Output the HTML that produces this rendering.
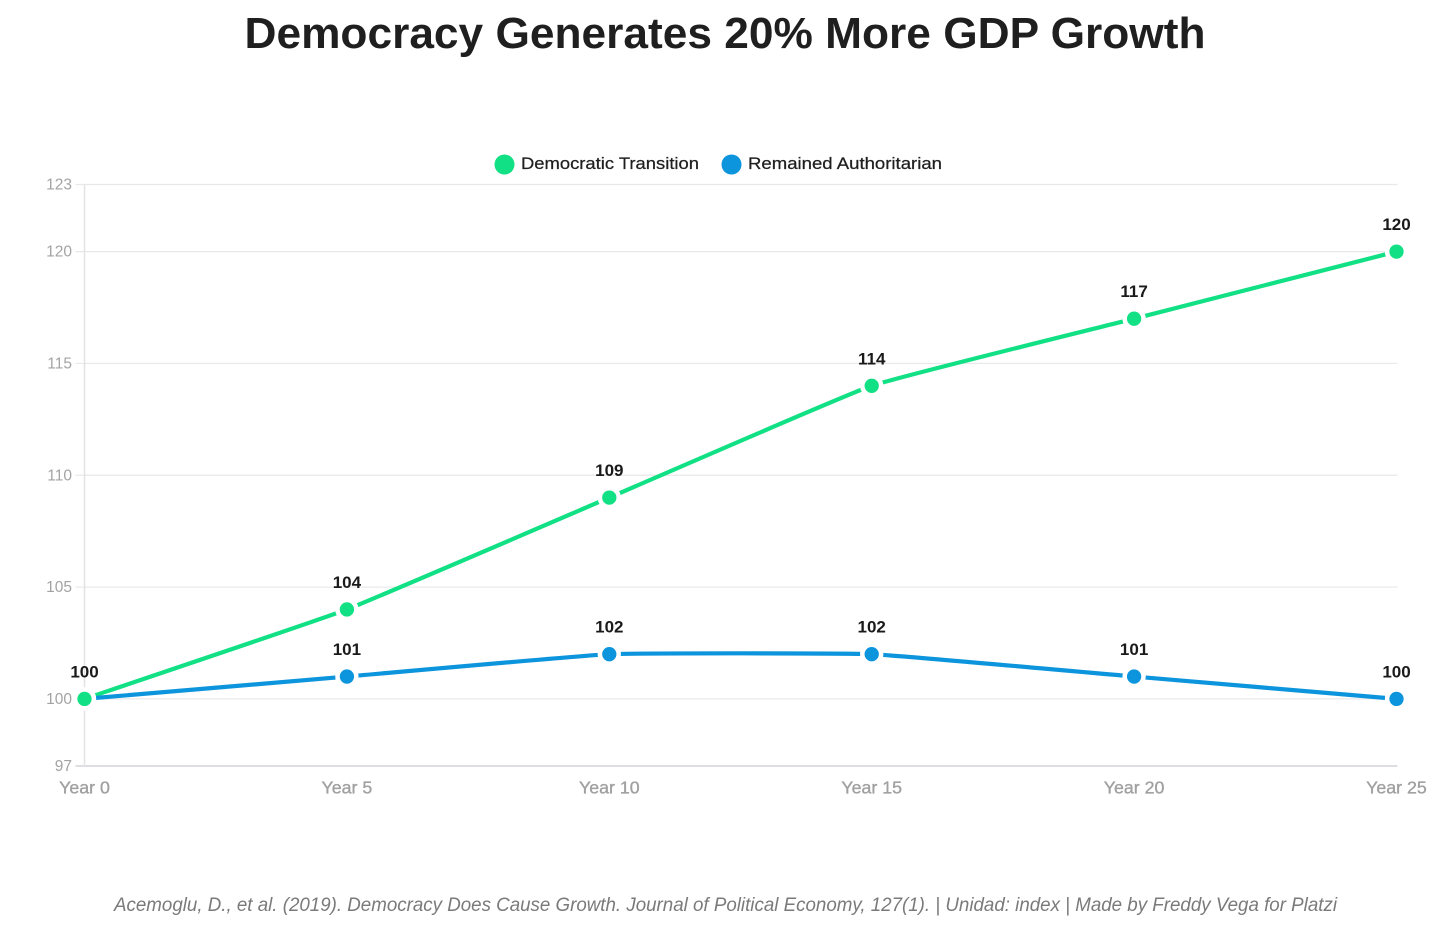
<!DOCTYPE html>
<html lang="en">
<head>
<meta charset="utf-8">
<title>Democracy Generates 20% More GDP Growth</title>
<style>
html,body{margin:0;padding:0;background:#fff;width:1456px;height:935px;overflow:hidden}
svg{display:block;font-family:"Liberation Sans",sans-serif}
</style>
</head>
<body>
<svg id="chart" width="1456" height="935" viewBox="0 0 1456 935" xmlns="http://www.w3.org/2000/svg">
<rect width="1456" height="935" fill="#ffffff"/>
<text x="725" y="48" text-anchor="middle" font-size="44" font-weight="700" fill="#1f1f1f" textLength="961" lengthAdjust="spacingAndGlyphs">Democracy Generates 20% More GDP Growth</text>
<g>
<g>
<circle cx="504.500" cy="164.500" r="10" fill="#11e085"/>
<text x="521" y="169" font-size="17" fill="#1f1f1f" stroke="#1f1f1f" stroke-width="0.25" textLength="178" lengthAdjust="spacingAndGlyphs">Democratic Transition</text>
</g>
<g>
<circle cx="731.500" cy="164.500" r="10" fill="#0c95dd"/>
<text x="748" y="169" font-size="17" fill="#1f1f1f" stroke="#1f1f1f" stroke-width="0.25" textLength="194" lengthAdjust="spacingAndGlyphs">Remained Authoritarian</text>
</g>
</g>
<g id="grid"></g>
<g id="yticks"></g>
<g id="xticks"></g>
<g id="series"></g>
<g id="points"></g>
<g id="values"></g>
<text x="725.500" y="911" text-anchor="middle" font-size="19" font-style="italic" fill="#7a7a7a" textLength="1223" lengthAdjust="spacingAndGlyphs">Acemoglu, D., et al. (2019). Democracy Does Cause Growth. Journal of Political Economy, 127(1). | Unidad: index | Made by Freddy Vega for Platzi</text>
</svg>
<script>
const categories = ['Year 0', 'Year 5', 'Year 10', 'Year 15', 'Year 20', 'Year 25'];
const democraticValues = [100, 104, 109, 114, 117, 120];
const authoritarianValues = [100, 101, 102, 102, 101, 100];
const yTickValues = [97, 100, 105, 110, 115, 120, 123];

const NS = 'http://www.w3.org/2000/svg';
const plotLeft = 84.5, plotRight = 1396.5, plotTop = 184.5, plotBottom = 766;
const yMin = 97, yMax = 123;
const GREEN = '#11e085', BLUE = '#0c95dd';
const SMOOTHING = 0.05;

function xScale(i) {
  return plotLeft + (plotRight - plotLeft) * i / (categories.length - 1);
}
function yScale(v) {
  return plotBottom - (plotBottom - plotTop) * (v - yMin) / (yMax - yMin);
}
function make(tag, attrs, parent) {
  const el = document.createElementNS(NS, tag);
  for (const k in attrs) el.setAttribute(k, attrs[k]);
  parent.appendChild(el);
  return el;
}
function smoothPath(xs, ys) {
  const n = xs.length;
  let d = 'M' + xs[0] + ',' + ys[0];
  for (let i = 0; i < n - 1; i++) {
    const a = Math.max(i - 1, 0), b = Math.min(i + 2, n - 1);
    const c1x = xs[i] + (xs[i + 1] - xs[a]) * SMOOTHING;
    const c1y = ys[i] + (ys[i + 1] - ys[a]) * SMOOTHING;
    const c2x = xs[i + 1] - (xs[b] - xs[i]) * SMOOTHING;
    const c2y = ys[i + 1] - (ys[b] - ys[i]) * SMOOTHING;
    d += 'C' + c1x + ',' + c1y + ' ' + c2x + ',' + c2y + ' ' + xs[i + 1] + ',' + ys[i + 1];
  }
  return d;
}

const gridG = document.getElementById('grid');
const yG = document.getElementById('yticks');
const xG = document.getElementById('xticks');
const seriesG = document.getElementById('series');
const pointsG = document.getElementById('points');
const valuesG = document.getElementById('values');

yTickValues.forEach(function (v) {
  const y = yScale(v);
  const isBase = v === yMin;
  const line = make('line', { x1: plotLeft - 9, x2: plotRight + 1, y1: y, y2: y, stroke: isBase ? '#d4d4d8' : '#e8e8e8', 'stroke-width': isBase ? 1.4 : 1.2 }, gridG);
  
  
  const label = make('text', { x: 72, y: y + 5, 'text-anchor': 'end', 'font-size': 15.5, fill: '#a3a3a3' }, yG);
  label.textContent = v;
  
  
});

const yAxisLine = make('line', { x1: plotLeft, x2: plotLeft, y1: plotTop, y2: plotBottom, stroke: '#e4e4e4', 'stroke-width': 1.6 }, yG);



categories.forEach(function (c, i) {
  const label = make('text', { x: xScale(i), y: 793.5, 'text-anchor': 'middle', 'font-size': 17.8, 'font-weight': 400, fill: '#a0a0a0', stroke: '#a0a0a0', 'stroke-width': 0.35 }, xG);
  label.textContent = c;
  
  
});

function drawLine(values, color, name) {
  const xs = values.map(function (_, i) { return xScale(i); });
  const ys = values.map(yScale);
  const path = make('path', { d: smoothPath(xs, ys), fill: 'none', stroke: color, 'stroke-width': 4.2 }, seriesG);
  
  
}
function drawPoints(values, color, name) {
  values.forEach(function (v, i) {
    const dot = make('circle', { cx: xScale(i), cy: yScale(v), r: 9.4, fill: color, stroke: '#ffffff', 'stroke-width': 4.5 }, pointsG);
    
    
  });
}
function drawValues(values, name, skipFirst) {
  values.forEach(function (v, i) {
    if (skipFirst && i === 0) return;
    const label = make('text', { x: xScale(i), y: yScale(v) - 21.5, 'text-anchor': 'middle', 'font-size': 17, 'font-weight': 700, fill: '#1a1a1a' }, valuesG);
    label.textContent = v;
    
    
  });
}

drawLine(democraticValues, GREEN, 'democratic-transition');
drawLine(authoritarianValues, BLUE, 'remained-authoritarian');
drawPoints(authoritarianValues, BLUE, 'remained-authoritarian');
drawPoints(democraticValues, GREEN, 'democratic-transition');
drawValues(democraticValues, 'democratic-transition', false);
drawValues(authoritarianValues, 'remained-authoritarian', true);
</script>
</body>
</html>
